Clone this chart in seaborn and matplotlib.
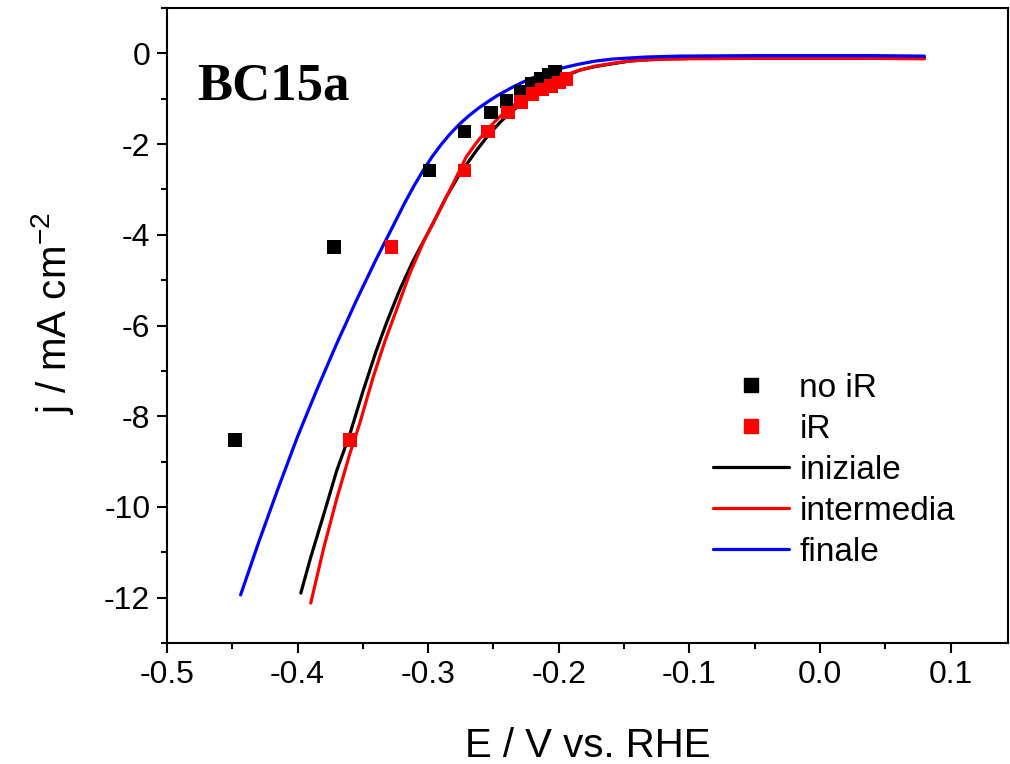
import matplotlib
matplotlib.use("Agg")
import matplotlib.pyplot as plt
from matplotlib.ticker import MultipleLocator
from matplotlib.lines import Line2D
import seaborn as sns
import pandas as pd

# ---- data ----
noir_E = [-0.448, -0.372, -0.299, -0.272, -0.252, -0.240, -0.229, -0.221, -0.214, -0.208, -0.203]
noir_j = [-8.52, -4.27, -2.58, -1.72, -1.30, -1.05, -0.84, -0.68, -0.56, -0.47, -0.40]

ir_E = [-0.360, -0.328, -0.272, -0.254, -0.239, -0.229, -0.220, -0.213, -0.206, -0.200, -0.194]
ir_j = [-8.52, -4.27, -2.58, -1.72, -1.30, -1.07, -0.90, -0.80, -0.72, -0.64, -0.57]

iniziale_E = [-0.3975, -0.390, -0.380, -0.370, -0.360, -0.350, -0.340, -0.332, -0.322, -0.312,
              -0.2963, -0.286, -0.276, -0.263, -0.254, -0.245, -0.235, -0.222, -0.2097, -0.197,
              -0.184, -0.172, -0.159, -0.146, -0.133, -0.120, -0.100, -0.050, 0.000, 0.040, 0.080]
iniziale_j = [-11.90, -11.12, -10.17, -9.20, -8.40, -7.46, -6.58, -5.95, -5.23, -4.60,
              -3.75, -3.16, -2.67, -2.14, -1.81, -1.52, -1.26, -0.96, -0.74, -0.53,
              -0.37, -0.29, -0.23, -0.17, -0.14, -0.12, -0.11, -0.10, -0.10, -0.10, -0.10]

intermedia_E = [-0.3899, -0.380, -0.370, -0.360, -0.3524, -0.342, -0.333, -0.3243, -0.314, -0.303,
                -0.2912, -0.281, -0.2708, -0.263, -0.2555, -0.245, -0.235, -0.222, -0.2097, -0.197,
                -0.184, -0.172, -0.159, -0.146, -0.133, -0.120, -0.100, -0.050, 0.000, 0.040, 0.080]
intermedia_j = [-12.12, -10.91, -9.82, -8.83, -8.16, -7.13, -6.34, -5.66, -4.85, -4.12,
                -3.46, -2.88, -2.28, -1.97, -1.70, -1.39, -1.15, -0.87, -0.67, -0.50,
                -0.37, -0.28, -0.22, -0.17, -0.145, -0.13, -0.12, -0.11, -0.11, -0.11, -0.12]

finale_E = [-0.4436, -0.430, -0.415, -0.400, -0.385, -0.370, -0.355, -0.340, -0.325, -0.318,
            -0.311, -0.304, -0.297, -0.290, -0.283, -0.276, -0.269, -0.262, -0.255, -0.247,
            -0.235, -0.222, -0.2097, -0.197, -0.185, -0.172, -0.1586, -0.145, -0.133, -0.120,
            -0.1077, -0.080, -0.050, 0.000, 0.040, 0.080]
finale_j = [-11.94, -10.80, -9.60, -8.45, -7.40, -6.40, -5.45, -4.55, -3.70, -3.30,
            -2.93, -2.59, -2.28, -2.01, -1.77, -1.56, -1.38, -1.22, -1.08, -0.93,
            -0.74, -0.56, -0.43, -0.32, -0.24, -0.17, -0.125, -0.10, -0.08, -0.07,
            -0.06, -0.055, -0.05, -0.05, -0.05, -0.06]

x_ticks = [-0.5, -0.4, -0.3, -0.2, -0.1, 0.0, 0.1]
x_ticklabels = ["-0.5", "-0.4", "-0.3", "-0.2", "-0.1", "0.0", "0.1"]
y_ticks = [0, -2, -4, -6, -8, -10, -12]
y_ticklabels = ["0", "-2", "-4", "-6", "-8", "-10", "-12"]

sns.set_theme(style="white")
plt.rcParams["font.family"] = ["Liberation Sans", "DejaVu Sans"]
plt.rcParams["mathtext.default"] = "regular"
plt.rcParams["text.color"] = "black"
plt.rcParams["axes.labelcolor"] = "black"
plt.rcParams["xtick.color"] = "black"
plt.rcParams["ytick.color"] = "black"

fig = plt.figure(figsize=(10.10, 7.64), dpi=100)
ax = fig.add_axes([0.1653, 0.1584, 0.8327, 0.8311])

lines_df = pd.concat([
    pd.DataFrame({"E": iniziale_E, "j": iniziale_j, "s": "iniziale"}),
    pd.DataFrame({"E": intermedia_E, "j": intermedia_j, "s": "intermedia"}),
    pd.DataFrame({"E": finale_E, "j": finale_j, "s": "finale"}),
], ignore_index=True)
line_colors = {"iniziale": "#000000", "intermedia": "#ff0000", "finale": "#0000ff"}

pts_df = pd.concat([
    pd.DataFrame({"E": noir_E, "j": noir_j, "s": "no iR"}),
    pd.DataFrame({"E": ir_E, "j": ir_j, "s": "iR"}),
], ignore_index=True)
pt_colors = {"no iR": "#000000", "iR": "#ff0000"}

sns.lineplot(data=lines_df, x="E", y="j", hue="s", palette=line_colors, sort=False,
             estimator=None, linewidth=2.3, ax=ax, legend=False, zorder=2)
sns.scatterplot(data=pts_df, x="E", y="j", hue="s", palette=pt_colors, marker="s",
                s=95, edgecolor="none", linewidth=0, ax=ax, legend=False, zorder=3)

ax.set_xlim(-0.5, 0.144)
ax.set_ylim(-13, 1)
ax.set_xticks(x_ticks)
ax.set_xticklabels(x_ticklabels)
ax.set_yticks(y_ticks)
ax.set_yticklabels(y_ticklabels)
ax.xaxis.set_minor_locator(MultipleLocator(0.05))
ax.yaxis.set_minor_locator(MultipleLocator(1))
ax.tick_params(axis="both", which="major", direction="out", length=7, width=1.5,
               labelsize=23, colors="black", bottom=True, left=True, top=False, right=False)
ax.tick_params(axis="both", which="minor", direction="out", length=4.5, width=1.5,
               bottom=True, left=True, top=False, right=False)
ax.tick_params(axis="x", which="major", pad=5)
ax.tick_params(axis="y", which="major", pad=5)
for sp in ax.spines.values():
    sp.set_linewidth(1.5)
    sp.set_color("black")

ax.set_xlabel("E / V vs. RHE", fontsize=29, labelpad=27)
ax.set_ylabel(r"j / mA cm$^{-2}$", fontsize=29, labelpad=20)
ax.yaxis.label.set_y(0.52)

ax.text(0.036, 0.877, "BC15a", transform=ax.transAxes, fontsize=38, fontweight="bold",
        family=["Liberation Serif", "DejaVu Serif"], va="center", ha="left", color="black")

handles = [
    Line2D([], [], linestyle="none", marker="s", color="#000000", markersize=9.5),
    Line2D([], [], linestyle="none", marker="s", color="#ff0000", markersize=9.5),
    Line2D([], [], color="#000000", linewidth=2.3),
    Line2D([], [], color="#ff0000", linewidth=2.3),
    Line2D([], [], color="#0000ff", linewidth=2.3),
]
labels = ["no iR", "iR", "iniziale", "intermedia", "finale"]
leg = ax.legend(handles, labels, loc="upper left", bbox_to_anchor=(0.633, 0.446),
                frameon=False, fontsize=24, handlelength=2.3, handletextpad=0.3,
                labelspacing=0.3, borderaxespad=0)

fig.savefig("out.png", dpi=100)
